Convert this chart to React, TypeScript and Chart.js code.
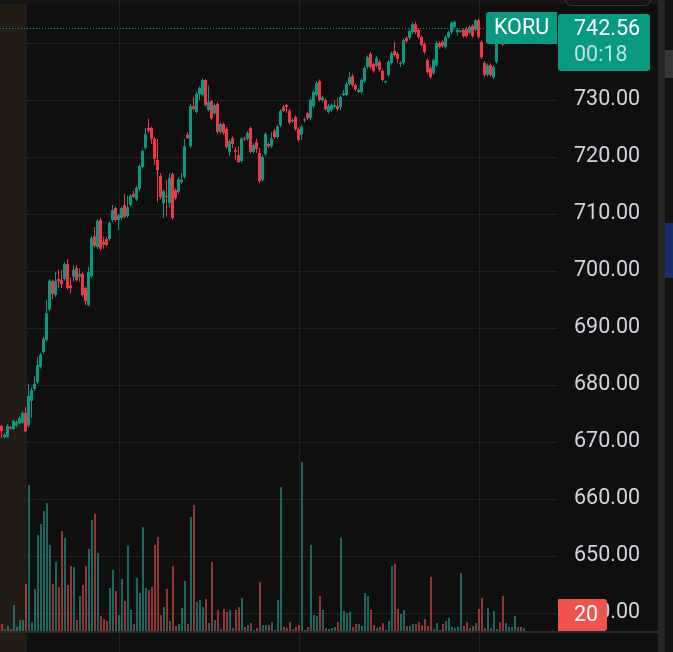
import { useEffect, useRef } from "react";
import { Chart, registerables } from "chart.js";

Chart.register(...registerables);

// ---------------- data ----------------
const symbol = "KORU";
const countdown = "00:18";
const volumeLabel = "20";
const preMarketBars = 9;
const timeGridAt = [39.5, 99.5, 159.5];
const priceStep = 10;

const opens = [
  672.81, 670.88, 670.9, 672.6, 672.3, 672.9, 673.3, 673.4, 675.1, 672.9,
  677.2, 679.3, 680.5, 683.2, 685.8, 687.9, 693.3, 698.2, 695.8, 698.6,
  698.4, 698.6, 701.2, 697.5, 699.0, 700.5, 699.0, 699.5, 697.0, 694.0,
  699.1, 706.1, 704.2, 708.95, 705.1, 705.6, 705.6, 708.9, 711.05, 708.95,
  709.3, 711.6, 709.65, 711.6, 713.5, 712.6, 714.4, 718.25, 721.6, 725.1,
  725.1, 723.2, 719.5, 716.7, 711.9, 713.2, 711.9, 717.0, 714.2, 713.9,
  715.6, 716.5, 723.9, 721.9, 728.95, 727.9, 731.05, 730.9, 733.5, 728.25,
  729.8, 727.7, 729.3, 724.4, 725.8, 724.9, 720.9, 723.3, 721.2, 720.35,
  719.3, 723.3, 723.2, 725.1, 720.9, 722.6, 720.7, 716.0, 720.5, 722.3,
  721.9, 724.6, 723.5, 725.6, 728.8, 729.1, 728.1, 726.3, 727.0, 724.9,
  723.9, 726.4, 727.7, 726.8, 728.95, 730.9, 733.3, 730.0, 730.0, 727.9,
  728.25, 728.8, 728.95, 728.8, 730.9, 730.9, 732.8, 734.2, 732.6, 731.4,
  731.4, 733.3, 735.8, 738.1, 736.3, 736.0, 736.7, 735.1, 733.1, 734.4,
  736.5, 738.6, 738.1, 736.3, 736.5, 740.9, 740.9, 741.9, 743.3, 742.3,
  741.05, 739.8, 737.0, 735.6, 734.7, 736.1, 740.0, 740.2, 739.3, 741.05,
  741.9, 742.8, 741.9, 742.0, 742.3, 742.45, 741.8, 743.0, 742.3, 744.0,
  740.2, 736.5, 734.4, 736.1, 734.0, 736.7, 741.3, 741.5, 739.9, 741.3,
  741.9, 742.4, 743.3, 743.8, 742.2,
];

const highs = [
  673.0, 671.5, 673.1, 672.8, 673.9, 673.8, 674.5, 675.4, 676.1, 680.2,
  679.5, 681.6, 684.9, 685.6, 688.4, 694.9, 698.6, 698.5, 699.8, 700.2,
  700.2, 701.6, 702.1, 698.8, 701.0, 701.0, 700.5, 699.8, 697.3, 700.7,
  706.1, 707.7, 709.1, 709.3, 706.0, 705.9, 708.7, 711.6, 711.3, 710.1,
  711.3, 713.5, 713.2, 713.5, 714.0, 714.9, 718.7, 721.3, 725.1, 726.7,
  725.3, 723.5, 723.2, 717.2, 714.3, 716.0, 717.2, 717.3, 714.5, 716.4,
  717.2, 723.2, 724.4, 729.3, 730.5, 731.4, 732.4, 733.8, 733.7, 732.5,
  730.0, 729.4, 729.6, 726.1, 726.1, 725.2, 723.1, 723.6, 721.75, 721.9,
  723.5, 723.6, 724.5, 725.4, 722.4, 723.2, 721.6, 720.3, 724.4, 722.6,
  724.4, 724.9, 725.7, 728.4, 729.1, 729.3, 728.4, 726.8, 727.3, 725.2,
  725.6, 726.9, 727.9, 730.3, 731.7, 733.3, 733.6, 730.8, 730.3, 729.3,
  729.4, 730.0, 730.35, 730.8, 731.75, 733.1, 734.9, 734.5, 732.9, 732.0,
  733.8, 735.9, 737.8, 738.4, 736.6, 737.7, 737.0, 735.4, 733.4, 737.0,
  738.5, 740.2, 738.4, 736.8, 740.8, 741.2, 742.4, 743.6, 743.7, 742.6,
  741.3, 740.1, 737.3, 735.9, 737.3, 740.3, 740.3, 740.5, 741.3, 742.2,
  743.8, 744.0, 742.6, 742.3, 742.6, 742.8, 743.1, 743.3, 744.3, 744.3,
  740.5, 736.8, 736.4, 736.4, 736.1, 741.5, 741.8, 742.0, 741.6, 742.3,
  742.9, 743.9, 744.2, 744.1, 742.9,
];

const lows = [
  670.7, 670.6, 670.7, 672.2, 672.1, 672.6, 673.1, 673.2, 671.7, 672.6,
  674.2, 679.0, 680.2, 682.9, 685.5, 687.6, 693.0, 695.1, 695.5, 697.0,
  697.0, 698.3, 696.7, 696.1, 698.1, 698.1, 698.1, 695.5, 694.0, 693.8,
  698.8, 704.1, 703.9, 703.6, 703.9, 704.3, 705.3, 708.6, 708.6, 707.2,
  709.0, 709.2, 709.3, 711.3, 712.8, 712.3, 714.1, 718.0, 721.3, 724.3,
  722.3, 718.6, 712.1, 712.6, 709.3, 709.5, 711.2, 709.0, 712.5, 713.6,
  715.3, 716.2, 723.2, 721.6, 728.2, 727.6, 730.0, 730.6, 728.8, 728.0,
  726.5, 727.4, 724.1, 724.1, 723.9, 721.4, 720.2, 721.6, 719.5, 719.0,
  719.0, 722.9, 722.9, 720.6, 720.6, 720.7, 715.5, 715.7, 720.2, 721.6,
  721.6, 723.2, 723.2, 725.3, 727.9, 727.7, 725.7, 726.0, 724.6, 722.7,
  723.0, 726.1, 726.5, 726.5, 728.6, 730.6, 729.7, 729.7, 728.1, 727.6,
  727.9, 728.5, 728.1, 728.25, 730.7, 730.6, 732.5, 732.3, 731.6, 731.2,
  731.1, 733.0, 735.5, 735.5, 734.8, 735.7, 735.0, 733.2, 732.9, 734.1,
  736.2, 737.6, 736.5, 735.8, 736.2, 740.0, 740.6, 741.6, 741.6, 740.8,
  739.4, 738.1, 734.6, 733.7, 734.4, 735.8, 739.0, 739.2, 739.0, 740.8,
  741.6, 742.5, 741.3, 741.8, 740.9, 740.9, 741.5, 740.9, 742.0, 740.8,
  737.2, 734.1, 734.1, 734.1, 733.7, 736.4, 740.0, 739.5, 739.7, 741.0,
  741.6, 742.1, 743.0, 742.7, 742.0,
];

const closes = [
  671.93, 671.23, 672.81, 672.4, 673.7, 673.5, 674.2, 675.1, 671.9, 678.1,
  679.1, 680.2, 683.5, 685.3, 688.1, 692.6, 698.3, 696.0, 698.3, 698.2,
  697.7, 701.2, 697.0, 697.0, 700.2, 698.4, 699.5, 695.8, 694.7, 699.8,
  705.8, 704.4, 708.8, 703.9, 704.6, 704.6, 708.4, 710.7, 708.95, 709.8,
  711.05, 709.5, 711.2, 713.2, 713.0, 714.6, 718.4, 721.05, 724.0, 724.6,
  723.2, 719.65, 717.7, 713.0, 714.0, 713.0, 716.3, 709.3, 712.8, 716.1,
  716.0, 721.9, 723.3, 728.95, 728.4, 731.05, 732.1, 733.5, 729.1, 729.65,
  726.8, 729.1, 724.4, 725.8, 724.2, 721.75, 722.8, 722.3, 720.9, 719.1,
  723.2, 723.1, 724.2, 720.9, 722.1, 721.4, 715.8, 720.0, 724.0, 721.9,
  723.3, 723.5, 725.4, 728.1, 728.1, 728.8, 726.0, 726.5, 724.9, 723.0,
  725.3, 726.6, 726.8, 730.0, 731.4, 733.0, 730.0, 730.5, 728.4, 728.95,
  729.1, 729.1, 728.4, 730.5, 731.2, 732.8, 734.0, 732.6, 731.9, 731.75,
  733.5, 735.6, 737.5, 735.8, 735.1, 737.4, 735.3, 733.5, 733.2, 736.7,
  738.2, 737.9, 737.2, 736.5, 740.5, 740.35, 742.1, 743.3, 741.9, 741.05,
  739.65, 738.4, 734.9, 734.0, 737.0, 740.0, 739.3, 739.5, 741.05, 741.9,
  743.5, 743.7, 742.3, 742.2, 741.2, 741.2, 742.8, 741.2, 744.0, 741.05,
  737.5, 734.4, 736.1, 734.4, 735.8, 741.0, 740.6, 739.7, 741.3, 742.0,
  742.6, 743.5, 743.8, 743.0, 742.56,
];

const volumes = [
  7, 2, 5, 2, 26, 4, 11, 11, 47, 146,
  9, 42, 96, 107, 120, 128, 86, 47, 69, 44,
  100, 93, 46, 65, 64, 11, 35, 46, 65, 82,
  111, 117, 78, 15, 12, 10, 43, 61, 40, 16,
  52, 30, 85, 21, 7, 53, 38, 104, 43, 41,
  44, 86, 94, 16, 24, 42, 10, 65, 5, 7,
  23, 50, 7, 114, 126, 29, 31, 24, 32, 8,
  69, 11, 21, 2, 22, 19, 21, 3, 21, 24,
  33, 4, 6, 8, 1, 3, 49, 6, 6, 6,
  9, 1, 31, 144, 4, 3, 9, 2, 4, 6,
  169, 1, 4, 86, 16, 15, 35, 21, 3, 2,
  3, 4, 9, 93, 20, 18, 19, 4, 7, 7,
  5, 38, 35, 21, 6, 3, 4, 8, 1, 10,
  65, 67, 22, 17, 21, 5, 5, 7, 7, 9,
  6, 12, 5, 54, 2, 8, 1, 7, 10, 13,
  4, 3, 4, 58, 5, 9, 3, 5, 8, 22,
  33, 3, 23, 3, 20, 2, 9, 35, 8, 4,
  4, 15, 4, 4, 3,
];

// ---------------- style ----------------
const BG = "#0f0f0f";
const GRID = "#202020";
const UP = "#089981";
const DOWN = "#f23645";
const VOL_UP = "rgba(38,166,154,0.58)";
const VOL_DOWN = "rgba(239,83,80,0.58)";
const SESSION = "#221c14";
const AXIS_TEXT = "#d1d4dc";
const FONT = "Roboto";
const FONT_SIZE = 21.5;

export default function App() {
  const ref = useRef<HTMLCanvasElement | null>(null);

  useEffect(() => {
    const canvas = ref.current;
    if (!canvas) return;
    const n = closes.length;
    const idx = closes.map((_, i) => i);
    const up = idx.map((i) => closes[i] >= opens[i]);
    const last = closes[n - 1];
    const lastUp = up[n - 1];

    const overlay = {
      id: "overlay",
      beforeDraw(chart: any) {
        const { ctx, chartArea } = chart;
        const xs = chart.scales.x;
        ctx.save();
        ctx.fillStyle = BG;
        ctx.fillRect(0, 0, chart.width, chart.height);
        ctx.fillStyle = "#151515";
        ctx.fillRect(0, 0, chartArea.right + 101, 4);
        const sx = xs.getPixelForValue(preMarketBars - 0.5);
        ctx.fillStyle = SESSION;
        ctx.fillRect(chartArea.left, 4, sx - chartArea.left, chartArea.bottom - 4);
        ctx.restore();
      },
      beforeDatasetsDraw(chart: any) {
        const { ctx, chartArea } = chart;
        const y = Math.round(chart.scales.y.getPixelForValue(last)) + 0.5;
        ctx.save();
        ctx.strokeStyle = lastUp ? UP : DOWN;
        ctx.lineWidth = 1;
        ctx.setLineDash([1, 2]);
        ctx.beginPath();
        ctx.moveTo(chartArea.left, y);
        ctx.lineTo(chartArea.right, y);
        ctx.stroke();
        ctx.restore();
      },
      afterDraw(chart: any) {
        const { ctx, chartArea } = chart;
        const ys = chart.scales.y;
        const yv = chart.scales.yv;
        const y = ys.getPixelForValue(last);
        const axisLeft = chartArea.right;
        const textX = axisLeft + 17;
        const base = yv.getPixelForValue(0);
        ctx.save();
        // pane separator
        ctx.fillStyle = "#2a2a2a";
        ctx.fillRect(0, Math.round(base), axisLeft + 101, 2);
        // right strips
        ctx.fillStyle = "#262626";
        ctx.fillRect(axisLeft + 101, 0, 7, chart.height);
        ctx.fillStyle = "#121212";
        ctx.fillRect(axisLeft + 108, 0, 8, chart.height);
        ctx.fillStyle = "#383838";
        ctx.fillRect(axisLeft + 108, 50, 8, 28);
        ctx.fillStyle = "#17306c";
        ctx.fillRect(axisLeft + 108, 223, 8, 55);
        // top button outline
        ctx.strokeStyle = "#3a3a3a";
        ctx.lineWidth = 1;
        ctx.beginPath();
        ctx.roundRect(axisLeft + 8.5, -20.5, 85, 26, 6);
        ctx.stroke();

        const col = lastUp ? UP : DOWN;
        // symbol label
        ctx.fillStyle = col;
        ctx.beginPath();
        ctx.roundRect(axisLeft - 71, Math.round(y - 16.5), 71, 32, [3, 0, 0, 3]);
        ctx.fill();
        ctx.fillStyle = "#ffffff";
        ctx.font = `${FONT_SIZE}px ${FONT}`;
        ctx.textBaseline = "middle";
        ctx.textAlign = "center";
        ctx.fillText(symbol, axisLeft - 35.5, y + 0.5);
        // price label
        ctx.fillStyle = col;
        ctx.beginPath();
        ctx.roundRect(axisLeft + 1, Math.round(y - 14.5), 92, 57, 3);
        ctx.fill();
        ctx.textAlign = "left";
        ctx.fillStyle = "#ffffff";
        ctx.fillText(last.toFixed(2), textX, y + 1.5);
        ctx.fillStyle = "rgba(255,255,255,0.72)";
        ctx.fillText(countdown, textX, y + 27);
        // volume label
        ctx.fillStyle = "#ef5350";
        ctx.beginPath();
        ctx.roundRect(axisLeft + 1, base - 32, 49, 32, [0, 3, 3, 0]);
        ctx.fill();
        ctx.fillStyle = "#ffffff";
        ctx.fillText(volumeLabel, textX, base - 15.5);
        ctx.restore();
      },
    };

    const chart = new Chart(canvas, {
      type: "bar",
      data: {
        datasets: [
          {
            data: idx.map((i) => ({ x: i, y: [opens[i], closes[i]] })) as any,
            xAxisID: "x",
            yAxisID: "y",
            backgroundColor: up.map((u) => (u ? UP : DOWN)),
            barThickness: 3,
            grouped: false,
            minBarLength: 1,
            inflateAmount: 0,
            borderWidth: 0,
            order: 0,
          } as any,
          {
            data: idx.map((i) => ({ x: i, y: [lows[i], highs[i]] })) as any,
            xAxisID: "x",
            yAxisID: "y",
            backgroundColor: up.map((u) => (u ? UP : DOWN)),
            barThickness: 1,
            grouped: false,
            minBarLength: 1,
            inflateAmount: 0,
            borderWidth: 0,
            order: 1,
          } as any,
          {
            data: idx.map((i) => ({ x: i, y: volumes[i] })) as any,
            xAxisID: "xv",
            yAxisID: "yv",
            backgroundColor: up.map((u) => (u ? VOL_UP : VOL_DOWN)),
            barThickness: 2,
            grouped: false,
            inflateAmount: 0,
            borderWidth: 0,
            order: 2,
          } as any,
        ],
      },
      options: {
        responsive: false,
        animation: false,
        events: [],
        layout: { padding: { left: 0, right: 15, top: 0, bottom: 0 } },
        plugins: { legend: { display: false }, tooltip: { enabled: false } },
        scales: {
          x: {
            type: "linear",
            min: -0.5,
            max: 185.1667,
            offset: false,
            grid: { color: GRID, drawTicks: false, offset: false },
            border: { display: false },
            ticks: { display: false },
            afterBuildTicks: (s: any) => {
              s.ticks = timeGridAt.map((v) => ({ value: v }));
            },
            afterFit: (s: any) => {
              s.height = 0;
              s.paddingLeft = 0;
              s.paddingRight = 0;
            },
          },
          xv: {
            type: "linear",
            display: false,
            min: -0.6667,
            max: 185.0,
            offset: false,
          },
          y: {
            type: "linear",
            position: "right",
            min: 633.158,
            max: 747.544,
            grid: { color: GRID, drawTicks: false },
            border: { display: false },
            ticks: {
              stepSize: priceStep,
              includeBounds: false,
              padding: 17,
              crossAlign: "near",
              color: AXIS_TEXT,
              font: { family: FONT, size: FONT_SIZE },
              callback: (v: any) => Number(v).toFixed(2),
            },
            afterFit: (s: any) => {
              s.width = 101;
              s.paddingTop = 0;
              s.paddingBottom = 0;
            },
          },
          yv: {
            type: "linear",
            display: false,
            min: -21,
            max: 631,
          },
        } as any,
      },
      plugins: [overlay],
    });
    return () => chart.destroy();
  }, []);

  return (
    <div
      style={{
        position: "absolute",
        left: 0,
        top: 0,
        width: 673,
        height: 652,
        background: BG,
        overflow: "hidden",
      }}
    >
      <canvas ref={ref} width={673} height={652} style={{ display: "block", width: 673, height: 652 }} />
    </div>
  );
}
